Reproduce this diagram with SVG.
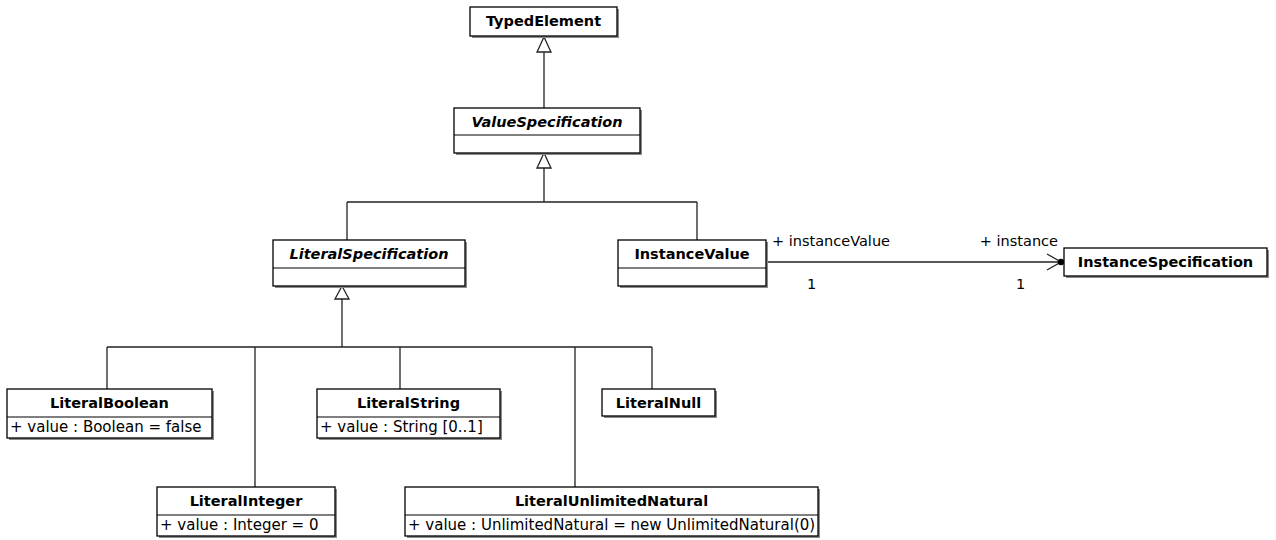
<svg xmlns="http://www.w3.org/2000/svg" width="1276" height="540" viewBox="0 0 1276 540">
<style>
.box{fill:#fff;stroke:#000;stroke-width:1.3}
.sh{fill:#8a8a8a}
.div{stroke:#000;stroke-width:1.2}
.t{font-family:"DejaVu Sans",Verdana,sans-serif;font-size:14.5px;font-weight:bold;text-anchor:middle;fill:#000}
.ti{font-style:italic}
.a{font-family:"DejaVu Sans",Verdana,sans-serif;font-size:15px;fill:#000}
.l{font-family:"DejaVu Sans",Verdana,sans-serif;font-size:14.5px;fill:#000}
.c{fill:none;stroke:#222;stroke-width:1.3}
.gen{fill:#fff;stroke:#222;stroke-width:1.3}
</style>
<rect width="1276" height="540" fill="#fff"/>
<g id="connectors">
  <path class="c" d="M544,108 V52"/>
  <polygon class="gen" points="544,37 537,52 551,52"/>
  <path class="c" d="M544,168 V202 M347,202 H697 M347,202 V240 M697,202 V240"/>
  <polygon class="gen" points="544,153 537,168 551,168"/>
  <path class="c" d="M342,299 V347 M107,347 H652 M107,347 V389 M255,347 V487 M400,347 V389 M575,347 V487 M652,347 V389"/>
  <polygon class="gen" points="342,286 335,299 349,299"/>
  <path class="c" d="M766,262 H1060"/>
  <path class="c" d="M1047,254 L1061,262 L1047,270"/>
  <circle cx="1061" cy="262" r="3.2" fill="#000"/>
  <text class="l" x="772" y="246">+ instanceValue</text>
  <text class="l" x="807" y="289">1</text>
  <text class="l" x="1058" y="246" text-anchor="end">+ instance</text>
  <text class="l" x="1016" y="289">1</text>
</g>
<g id="TypedElement">
  <rect class="sh" x="472" y="9" width="147" height="29"/>
  <rect class="box" x="470" y="7" width="147" height="29"/>
  <text class="t" x="543.5" y="26">TypedElement</text>
</g>
<g id="ValueSpecification">
  <rect class="sh" x="456" y="110" width="186" height="45"/>
  <rect class="box" x="454" y="108" width="186" height="45"/>
  <line class="div" x1="454" y1="135" x2="640" y2="135"/>
  <text class="t ti" x="547" y="127">ValueSpecification</text>
</g>
<g id="LiteralSpecification">
  <rect class="sh" x="275" y="242" width="192" height="46"/>
  <rect class="box" x="273" y="240" width="192" height="46"/>
  <line class="div" x1="273" y1="268" x2="465" y2="268"/>
  <text class="t ti" x="369" y="259">LiteralSpecification</text>
</g>
<g id="InstanceValue">
  <rect class="sh" x="620" y="242" width="148" height="46"/>
  <rect class="box" x="618" y="240" width="148" height="46"/>
  <line class="div" x1="618" y1="268" x2="766" y2="268"/>
  <text class="t" x="692" y="259">InstanceValue</text>
</g>
<g id="InstanceSpecification">
  <rect class="sh" x="1066" y="250" width="203" height="28"/>
  <rect class="box" x="1064" y="248" width="203" height="28"/>
  <text class="t" x="1165.5" y="267">InstanceSpecification</text>
</g>
<g id="LiteralBoolean">
  <rect class="sh" x="9" y="391" width="205" height="49"/>
  <rect class="box" x="7" y="389" width="205" height="49"/>
  <line class="div" x1="7" y1="417" x2="212" y2="417"/>
  <text class="t" x="109.5" y="408">LiteralBoolean</text>
  <text class="a" x="10" y="432">+ value : Boolean = false</text>
</g>
<g id="LiteralString">
  <rect class="sh" x="319" y="391" width="183" height="49"/>
  <rect class="box" x="317" y="389" width="183" height="49"/>
  <line class="div" x1="317" y1="417" x2="500" y2="417"/>
  <text class="t" x="408.5" y="408">LiteralString</text>
  <text class="a" x="320" y="432">+ value : String [0..1]</text>
</g>
<g id="LiteralNull">
  <rect class="sh" x="604" y="391" width="113" height="27"/>
  <rect class="box" x="602" y="389" width="113" height="27"/>
  <text class="t" x="658.5" y="408">LiteralNull</text>
</g>
<g id="LiteralInteger">
  <rect class="sh" x="159" y="489" width="178" height="49"/>
  <rect class="box" x="157" y="487" width="178" height="49"/>
  <line class="div" x1="157" y1="515" x2="335" y2="515"/>
  <text class="t" x="246" y="506">LiteralInteger</text>
  <text class="a" x="160" y="530">+ value : Integer = 0</text>
</g>
<g id="LiteralUnlimitedNatural">
  <rect class="sh" x="407" y="489" width="413" height="49"/>
  <rect class="box" x="405" y="487" width="413" height="49"/>
  <line class="div" x1="405" y1="515" x2="818" y2="515"/>
  <text class="t" x="611.5" y="506">LiteralUnlimitedNatural</text>
  <text class="a" x="408" y="530">+ value : UnlimitedNatural = new UnlimitedNatural(0)</text>
</g>
</svg>
